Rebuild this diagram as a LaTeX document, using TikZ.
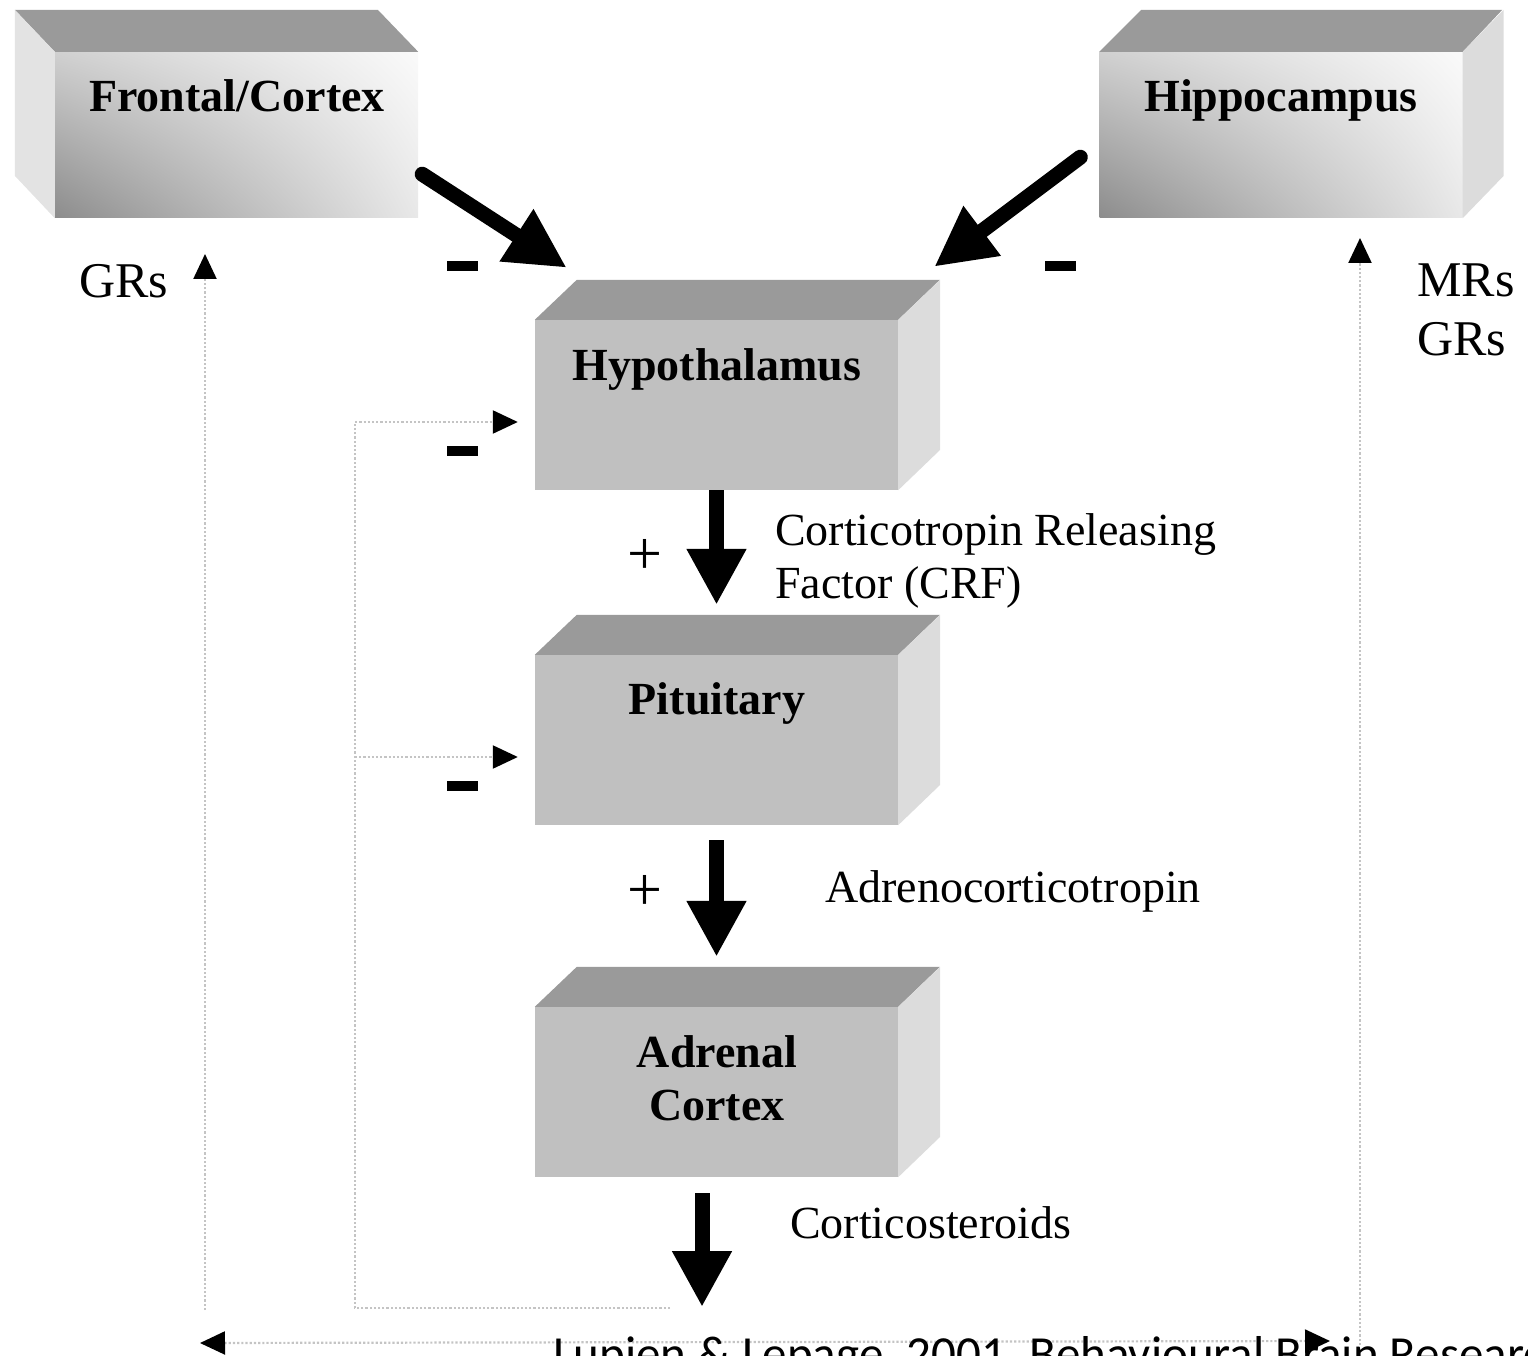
\documentclass[tikz,border=0pt]{standalone}
\usepackage{fontspec}
\setmainfont{Liberation Serif}
\newfontfamily\citefont{Carlito}
\usetikzlibrary{arrows.meta,shadings}

\definecolor{topgray}{HTML}{9A9A9A}
\definecolor{frontgray}{HTML}{C0C0C0}
\definecolor{sidegray}{HTML}{DCDCDC}
\definecolor{dotgray}{HTML}{C4C4C4}
\definecolor{shUL}{HTML}{D0D0D0}
\definecolor{shUR}{HTML}{FAFAFA}
\definecolor{shLL}{HTML}{8C8C8C}
\definecolor{shLR}{HTML}{E8E8E8}

\begin{document}
\begin{tikzpicture}[x=1pt,y=-1pt,
  face/.style={draw=none,inner sep=0pt,minimum width=363pt,minimum height=170pt,fill=frontgray},
  shadedface/.style={draw=none,inner sep=0pt,minimum width=363pt,minimum height=166pt,shade,
    upper left=shUL,upper right=shUR,lower left=shLL,lower right=shLR},
  boxlabel/.style={anchor=base,inner sep=0pt,font=\fontsize{46}{53}\selectfont\bfseries},
  txt/.style={anchor=base west,inner sep=0pt,font=\fontsize{46}{53}\selectfont},
  rlabel/.style={anchor=base west,inner sep=0pt,font=\fontsize{50}{58}\selectfont},
  sign/.style={inner sep=0pt,font=\fontsize{62}{62}\selectfont},
  minus/.style={fill=black,draw=none,inner sep=0pt,minimum width=31pt,minimum height=10pt},
  thick arrow/.style={line width=15pt,-{Triangle[length=56pt,width=56pt]}},
  diag arrow/.style={line width=15pt,line cap=round,-{Triangle[length=60pt,width=58pt]}},
  feedback/.style={dotgray,line width=2.2pt,dotted},
  smalltip/.style={-{Triangle[length=25pt,width=23pt,color=black]}},
  bothtips/.style={{Triangle[length=25pt,width=23pt,color=black]}-{Triangle[length=25pt,width=23pt,color=black]}}
]
\useasboundingbox (0,0) rectangle (1528,1356);

% ---------- upper boxes ----------
\node[shadedface] (fc) at (236.5,135) {};
\fill[topgray] (fc.north west) -- ++(-40,-42) -- ++(363,0) -- (fc.north east) -- cycle;
\fill[sidegray!80!white] (fc.north west) -- ++(-40,-42) -- ++(0,166) -- (fc.south west) -- cycle;
\node[boxlabel] (fcT) at (237,112) {Frontal/Cortex};

\node[shadedface] (hc) at (1281,135) {};
\fill[topgray] (hc.north west) -- ++(42,-42) -- ++(361,0) -- (hc.north east) -- cycle;
\fill[sidegray] (hc.north east) -- ++(41,-42) -- ++(0,166) -- (hc.south east) -- cycle;
\node[boxlabel] (hcT) at (1281,112) {Hippocampus};

% ---------- central axis boxes ----------
\newcommand\axisbox[1]{%
  \fill[topgray] (#1.north west) -- ++(42,-40) -- ++(363,0) -- (#1.north east) -- cycle;
  \fill[sidegray] (#1.north east) -- ++(42,-40) -- ++(0,170) -- (#1.south east) -- cycle;}

\node[face] (hypo) at (716.5,405) {};
\axisbox{hypo}
\node[boxlabel] (hypoT) at (717,380) {Hypothalamus};

\node[face] (pit) at (716.5,740) {};
\axisbox{pit}
\node[boxlabel] (pitT) at (717,714) {Pituitary};

\node[face] (adr) at (716.5,1092) {};
\axisbox{adr}
\node[boxlabel,align=center] (adrT) at (717,1120) {Adrenal\\Cortex};

% ---------- labels ----------
\node[rlabel] (grL) at (79,298) {GRs};
\node[rlabel] (mrR) at (1417,296) {MRs};
\node[rlabel] (grR) at (1417,355) {GRs};
\node[txt,align=left] (crf) at (775,598) {Corticotropin Releasing\\Factor (CRF)};
\node[txt] (acth) at (825,902) {Adrenocorticotropin};
\node[txt] (cort) at (790,1238) {Corticosteroids};
\node[sign] (p1) at (645,557) {+};
\node[sign] (p2) at (645,893) {+};

\node[minus] (m1) at (462,266) {};
\node[minus] (m2) at (1060,266) {};
\node[minus] (m3) at (462,451) {};
\node[minus] (m4) at (462,786) {};

% ---------- inhibitory inputs from above ----------
\coordinate (fcOut) at ([shift={(4,-44)}]fc.south east);
\coordinate (hypoInL) at ([shift={(32,-52)}]hypo.north west);
\coordinate (hcOut) at ([shift={(-19,-61)}]hc.south west);
\coordinate (hypoInR) at ([shift={(36,-53)}]hypo.north east);
\draw[diag arrow] (fcOut) -- (hypoInL);
\draw[diag arrow] (hcOut) -- (hypoInR);

% ---------- stimulatory cascade ----------
\draw[thick arrow] (hypo.south) -- ([shift={(0,-50)}]pit.north);
\draw[thick arrow] ([shift={(0,15)}]pit.south) -- ([shift={(0,-50)}]adr.north);
\coordinate (csEnd) at (702,1307);
\draw[thick arrow] ([shift={(-14.5,16)}]adr.south) -- (csEnd);

% ---------- feedback loops ----------
\coordinate (loopA) at (670,1308);
\coordinate (loopB) at (355,1308);
\coordinate (loopC) at (355,422);
\coordinate (loopD) at (355,757);
\draw[feedback,smalltip] (loopA) -- (loopB) -- (loopC) -- ([shift={(-17,17)}]hypo.west);
\draw[feedback,smalltip] (loopD) -- ([shift={(-17,17)}]pit.west);

\coordinate (outL) at (205,1310);
\coordinate (outR) at (1360,1345);
\coordinate (outBL) at (200,1343);
\coordinate (outBR) at (1330,1341);
\draw[feedback,smalltip] (outL) -- (205,254);
\draw[feedback,smalltip] (outR) -- (1360,238);
\draw[feedback,bothtips] (outBL) -- (outBR);

% ---------- source ----------
\node[anchor=base west,inner sep=0pt,font=\citefont\fontsize{49}{55}\selectfont] (cite) at (553,1370) {Lupien \& Lepage, 2001, Behavioural Brain Research};
\end{tikzpicture}
\end{document}
